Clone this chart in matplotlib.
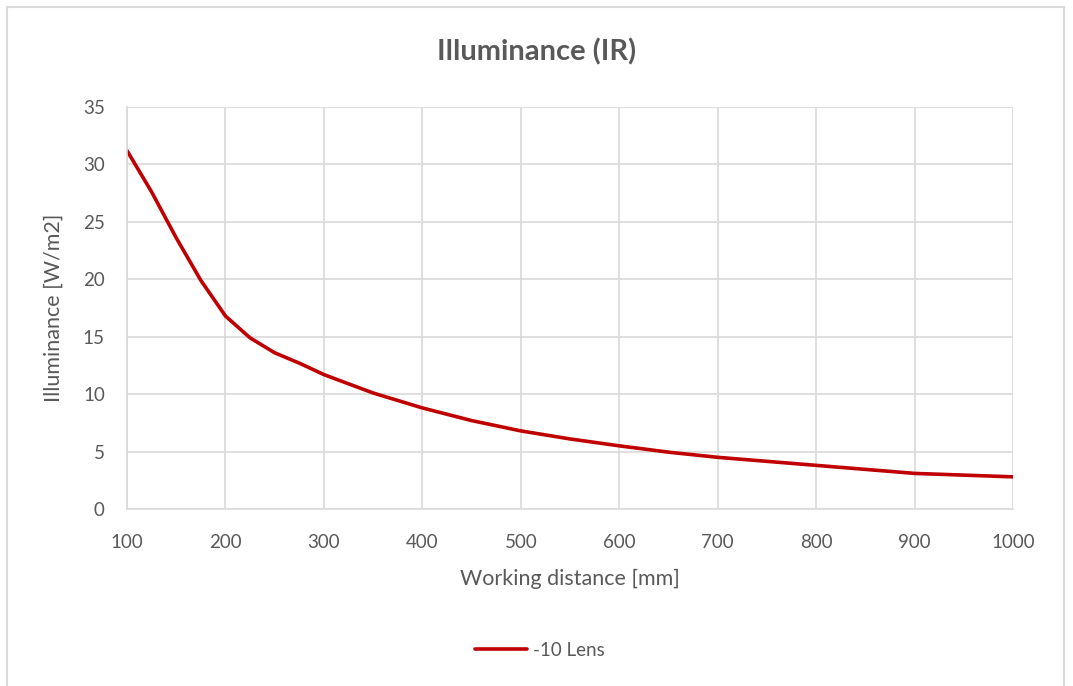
import matplotlib.pyplot as plt
from matplotlib.patches import Rectangle

# working distance [mm] and illuminance [W/m2] for the -10 lens
distance = [100, 125, 150, 175, 200, 225, 250, 275, 300, 350, 400, 450,
            500, 550, 600, 650, 700, 750, 800, 850, 900, 950, 1000]
illuminance = [31.2, 27.6, 23.6, 19.9, 16.8, 14.9, 13.6, 12.7, 11.7, 10.1,
               8.8, 7.7, 6.8, 6.1, 5.5, 4.95, 4.5, 4.15, 3.8, 3.45, 3.1,
               2.95, 2.8]

x_ticks = list(range(100, 1001, 100))
y_ticks = list(range(0, 36, 5))

plt.rcParams["font.family"] = ["Lato", "DejaVu Sans"]

TEXT = "#595959"
GRID = "#d9d9d9"

fig = plt.figure(figsize=(10.73, 6.86), dpi=100)
ax = fig.add_axes([0.1184, 0.258, 0.8258, 0.586])

ax.plot(distance, illuminance, color="#c00000", lw=2.6, label="-10 Lens",
        solid_capstyle="round", solid_joinstyle="round")

ax.set_xlim(100, 1000)
ax.set_ylim(0, 35)
ax.set_xticks(x_ticks)
ax.set_yticks(y_ticks)
ax.tick_params(length=0, colors=TEXT, labelsize=13.5)
ax.tick_params(axis="x", pad=18)
ax.tick_params(axis="y", pad=16)
ax.grid(True, color=GRID, lw=1.2)
ax.set_axisbelow(True)
for side in ("top", "right"):
    ax.spines[side].set_visible(False)
for side in ("left", "bottom"):
    ax.spines[side].set_color(GRID)
    ax.spines[side].set_linewidth(1.2)

ax.set_xlabel("Working distance [mm]", fontsize=15.5, color=TEXT, labelpad=13)
ax.set_ylabel("Illuminance [W/m2]", fontsize=15.5, color=TEXT, labelpad=14)

fig.text(0.5, 0.924, "Illuminance (IR)", ha="center", va="center",
         fontsize=21, fontweight="bold", color=TEXT)

fig.legend(loc="center", bbox_to_anchor=(0.503, 0.052), frameon=False,
           fontsize=13.5, labelcolor=TEXT, handlelength=2.8, handletextpad=0.3)

# chart area border
fig.patches.append(Rectangle((7 / 1073, -0.05), 1057 / 1073, 1.05 - 7 / 686,
                             transform=fig.transFigure, fill=False,
                             edgecolor=GRID, lw=1.5))

fig.savefig("out.png", dpi=100)
